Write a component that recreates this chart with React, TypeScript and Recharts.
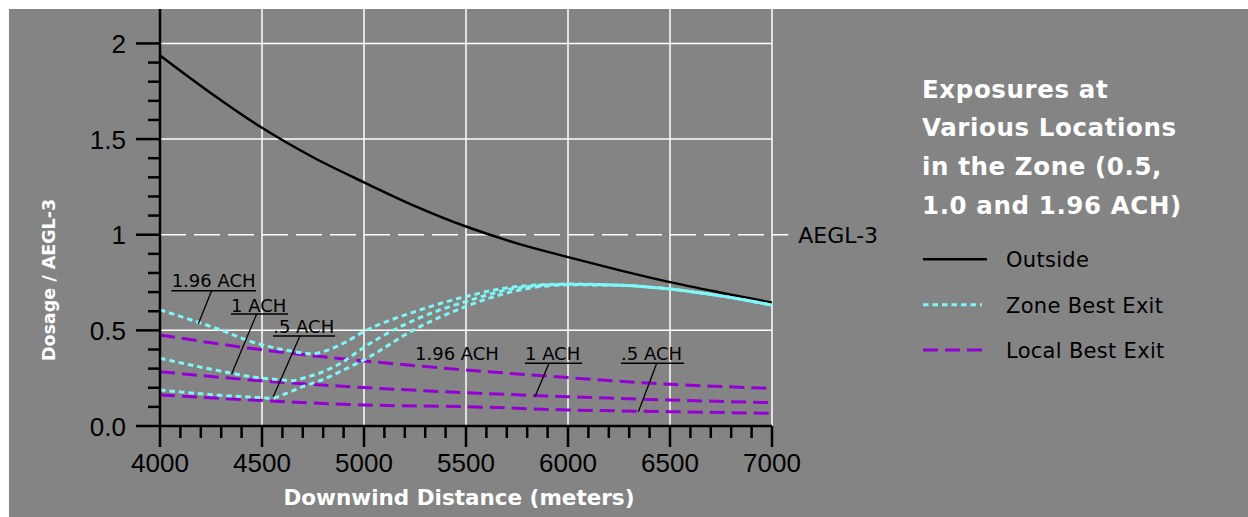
import React from 'react';
import {
  LineChart,
  Line,
  XAxis,
  YAxis,
  CartesianGrid,
  ReferenceLine,
  ReferenceDot,
  Legend,
} from 'recharts';

/* ------------------------------------------------------------------ */
/*  Data (distance in m, dosage / AEGL-3)           */
/* ------------------------------------------------------------------ */
const OUTSIDE = [
  { d: 4000, v: 1.937 }, { d: 4250, v: 1.74 }, { d: 4500, v: 1.559 },
  { d: 4750, v: 1.405 }, { d: 5000, v: 1.274 }, { d: 5250, v: 1.15 },
  { d: 5500, v: 1.043 }, { d: 5750, v: 0.955 }, { d: 6000, v: 0.883 },
  { d: 6250, v: 0.815 }, { d: 6500, v: 0.752 }, { d: 6750, v: 0.697 },
  { d: 7000, v: 0.645 },
];

const ZONE_196 = [
  { d: 4000, v: 0.607 }, { d: 4250, v: 0.52 }, { d: 4500, v: 0.424 },
  { d: 4600, v: 0.4 }, { d: 4700, v: 0.382 }, { d: 4750, v: 0.377 },
  { d: 4800, v: 0.389 }, { d: 4900, v: 0.433 }, { d: 5000, v: 0.494 },
  { d: 5250, v: 0.598 }, { d: 5500, v: 0.677 }, { d: 5750, v: 0.729 },
  { d: 6000, v: 0.742 }, { d: 6250, v: 0.736 }, { d: 6500, v: 0.716 },
  { d: 6750, v: 0.68 }, { d: 7000, v: 0.632 },
];

const ZONE_1 = [
  { d: 4000, v: 0.354 }, { d: 4250, v: 0.297 }, { d: 4500, v: 0.25 },
  { d: 4600, v: 0.241 }, { d: 4650, v: 0.237 }, { d: 4700, v: 0.25 },
  { d: 4800, v: 0.284 }, { d: 4900, v: 0.337 }, { d: 5000, v: 0.412 },
  { d: 5250, v: 0.555 }, { d: 5500, v: 0.651 }, { d: 5750, v: 0.721 },
  { d: 6000, v: 0.74 }, { d: 6250, v: 0.736 }, { d: 6500, v: 0.716 },
  { d: 6750, v: 0.68 }, { d: 7000, v: 0.632 },
];

const ZONE_05 = [
  { d: 4000, v: 0.188 }, { d: 4250, v: 0.164 }, { d: 4500, v: 0.148 },
  { d: 4550, v: 0.145 }, { d: 4600, v: 0.162 }, { d: 4700, v: 0.206 },
  { d: 4800, v: 0.244 }, { d: 4900, v: 0.293 }, { d: 5000, v: 0.346 },
  { d: 5250, v: 0.506 }, { d: 5500, v: 0.625 }, { d: 5750, v: 0.708 },
  { d: 6000, v: 0.738 }, { d: 6250, v: 0.736 }, { d: 6500, v: 0.716 },
  { d: 6750, v: 0.68 }, { d: 7000, v: 0.632 },
];

const LOCAL_196 = [
  { d: 4000, v: 0.476 }, { d: 4500, v: 0.398 }, { d: 5000, v: 0.34 },
  { d: 5500, v: 0.293 }, { d: 6000, v: 0.253 }, { d: 6500, v: 0.218 },
  { d: 7000, v: 0.197 },
];

const LOCAL_1 = [
  { d: 4000, v: 0.284 }, { d: 4500, v: 0.236 }, { d: 5000, v: 0.201 },
  { d: 5500, v: 0.174 }, { d: 6000, v: 0.153 }, { d: 6500, v: 0.136 },
  { d: 7000, v: 0.122 },
];

const LOCAL_05 = [
  { d: 4000, v: 0.162 }, { d: 4500, v: 0.133 }, { d: 5000, v: 0.11 },
  { d: 5500, v: 0.101 }, { d: 6000, v: 0.084 }, { d: 6500, v: 0.075 },
  { d: 7000, v: 0.066 },
];

/* ticks + labels */
const X_TICKS = [
  4000, 4100, 4200, 4300, 4400, 4500, 4600, 4700, 4800, 4900,
  5000, 5100, 5200, 5300, 5400, 5500, 5600, 5700, 5800, 5900,
  6000, 6100, 6200, 6300, 6400, 6500, 6600, 6700, 6800, 6900, 7000,
];
const Y_TICKS = [
  0, 0.1, 0.2, 0.3, 0.4, 0.5, 0.6, 0.7, 0.8, 0.9,
  1, 1.1, 1.2, 1.3, 1.4, 1.5, 1.6, 1.7, 1.8, 1.9, 2,
];
const Y_LABELS: Record<string, string> = { '0': '0.0', '0.5': '0.5', '1': '1', '1.5': '1.5', '2': '2' };
const GRID_X = [4500, 5000, 5500, 6000, 6500, 7000];
const GRID_Y = [0.5, 1.5, 2];
const AEGL = 1;

const LEGEND_TITLE = ['Exposures at', 'Various Locations', 'in the Zone (0.5,', '1.0 and 1.96 ACH)'];
const LEGEND_ORDER = ['Outside', 'Zone Best Exit', 'Local Best Exit'];

/* in-plot callouts: text start / baseline, underline, leader line */
const NOTES = [
  { text: '1.96 ACH', x: 4057, y: 0.729, u: [4055, 4471, 0.707], l: [4253, 0.707, 4188, 0.534] },
  { text: '1 ACH', x: 4348, y: 0.598, u: [4348, 4627, 0.586], l: [4474, 0.586, 4351, 0.272] },
  { text: '.5 ACH', x: 4555, y: 0.485, u: [4554, 4858, 0.471], l: [4686, 0.471, 4555, 0.153] },
  { text: '1.96 ACH', x: 5250, y: 0.346, u: null, l: null },
  { text: '1 ACH', x: 5789, y: 0.346, u: [5789, 6069, 0.328], l: [5907, 0.328, 5838, 0.153] },
  { text: '.5 ACH', x: 6260, y: 0.346, u: [6260, 6569, 0.328], l: [6435, 0.328, 6345, 0.075] },
];

/* ------------------------------------------------------------------ */
/*  Styles                                                            */
/* ------------------------------------------------------------------ */
const FONT = '"DejaVu Sans", Verdana, sans-serif';
const TICK_FONT = '"Liberation Sans", Arial, sans-serif';
const BG = '#848484';

const STYLES: Record<string, { stroke: string; width: number; dash?: string; len: number }> = {
  Outside: { stroke: '#000000', width: 2.5, len: 64 },
  'Zone Best Exit': { stroke: '#7ff7f7', width: 3, dash: '5.5 4', len: 59 },
  'Local Best Exit': { stroke: '#9400d3', width: 3, dash: '15 7', len: 59 },
};

const SERIES = [
  { id: 'out', name: 'Outside', data: OUTSIDE },
  { id: 'l196', name: 'Local Best Exit', data: LOCAL_196 },
  { id: 'l1', name: 'Local Best Exit', data: LOCAL_1 },
  { id: 'l05', name: 'Local Best Exit', data: LOCAL_05 },
  { id: 'z196', name: 'Zone Best Exit', data: ZONE_196 },
  { id: 'z1', name: 'Zone Best Exit', data: ZONE_1 },
  { id: 'z05', name: 'Zone Best Exit', data: ZONE_05 },
];

/* ------------------------------------------------------------------ */
/*  Axis ticks (long major / short minor)                             */
/* ------------------------------------------------------------------ */
const XTick = ({ x, y, payload }: any) => {
  const major = payload.value % 500 === 0;
  return (
    <g>
      <line x1={x} x2={x} y1={y} y2={y + (major ? 21 : 12)} stroke="#000" strokeWidth={2.5} />
      {major && (
        <text x={x} y={y + 46} textAnchor="middle" fontSize={26} fontFamily={TICK_FONT} fill="#000">
          {payload.value}
        </text>
      )}
    </g>
  );
};

const YTick = ({ x, y, payload }: any) => {
  const label = Y_LABELS[String(payload.value)];
  return (
    <g>
      <line x1={x - (label ? 24 : 12)} x2={x} y1={y} y2={y} stroke="#000" strokeWidth={2.5} />
      {label && (
        <text x={x - 34} y={y + 9.5} textAnchor="end" fontSize={26} fontFamily={TICK_FONT} fill="#000">
          {label}
        </text>
      )}
    </g>
  );
};

const YTitle = ({ viewBox }: any) => {
  const cx = viewBox.x + 46;
  const cy = viewBox.y + 271;
  return (
    <text x={cx} y={cy} transform={`rotate(-90 ${cx} ${cy})`} textAnchor="middle"
      fontSize={17.5} fontWeight="bold" fontFamily={FONT} fill="#fff">
      Dosage / AEGL-3
    </text>
  );
};

const XTitle = ({ viewBox }: any) => (
  <text x={viewBox.x + viewBox.width / 2 - 7} y={viewBox.y + 79} textAnchor="middle"
    fontSize={21.5} fontWeight="bold" fontFamily={FONT} fill="#fff">
    Downwind Distance (meters)
  </text>
);

/* ------------------------------------------------------------------ */
/*  Legend block on the right                                         */
/* ------------------------------------------------------------------ */
const renderLegend = (props: any) => {
  const seen = new Set<string>();
  const items = (props.payload || [])
    .filter((e: any) => {
      if (seen.has(e.value)) return false;
      seen.add(e.value);
      return true;
    })
    .sort((a: any, b: any) => LEGEND_ORDER.indexOf(a.value) - LEGEND_ORDER.indexOf(b.value));

  return (
    <svg width={330} height={310} style={{ display: 'block', overflow: 'visible' }}>
      {LEGEND_TITLE.map((t, i) => (
        <text key={t} x={9} y={28.5 + i * 38.9} fill="#fff" fontWeight="bold"
          fontSize={24.5} letterSpacing={0.6} fontFamily={FONT}>
          {t}
        </text>
      ))}
      {items.map((e: any, i: number) => {
        const s = STYLES[e.value];
        const cy = 190.3 + i * 45.4;
        return (
          <g key={e.value}>
            <line x1={10} x2={10 + s.len} y1={cy} y2={cy} stroke={s.stroke}
              strokeWidth={s.width} strokeDasharray={s.dash} />
            <text x={93} y={cy + 8} fontSize={21} letterSpacing={0.3} fontFamily={FONT} fill="#000">
              {e.value}
            </text>
          </g>
        );
      })}
    </svg>
  );
};

/* ------------------------------------------------------------------ */
/*  Component                                                         */
/* ------------------------------------------------------------------ */
export default function App() {
  return (
    <div style={{ position: 'absolute', left: 9, top: 9, width: 1239, height: 508, background: BG }}>
      <LineChart width={1239} height={508} margin={{ top: 0, right: 476, bottom: 0, left: 0 }}>
        <CartesianGrid
          stroke="#ffffff"
          strokeWidth={1.5}
          horizontalValues={GRID_Y}
          verticalValues={GRID_X}
        />
        <XAxis
          type="number"
          dataKey="d"
          domain={[4000, 7000]}
          ticks={X_TICKS}
          interval={0}
          tickSize={0}
          tickMargin={0}
          tick={<XTick />}
          height={91}
          axisLine={{ stroke: '#000', strokeWidth: 2.5 }}
          label={XTitle}
        />
        <YAxis
          type="number"
          dataKey="v"
          domain={[0, 2.18]}
          ticks={Y_TICKS}
          interval={0}
          tickSize={0}
          tickMargin={0}
          tick={<YTick />}
          width={151}
          axisLine={{ stroke: '#000', strokeWidth: 2.5 }}
          label={YTitle}
        />

        <ReferenceLine
          segment={[{ x: 4000, y: AEGL }, { x: 7080, y: AEGL }]}
          ifOverflow="visible"
          stroke="#ffffff"
          strokeWidth={1.5}
          strokeDasharray="26 8"
          label={{ value: 'AEGL-3', position: 'right', offset: 10, fill: '#000', fontSize: 22, fontFamily: FONT }}
        />

        {SERIES.map((s, i) => {
          const st = STYLES[s.name];
          return (
            <Line
              key={s.id}
              data={s.data}
              dataKey="v"
              name={s.name}
              type="monotone"
              stroke={st.stroke}
              strokeWidth={st.width}
              strokeDasharray={st.dash}
              dot={false}
              activeDot={false}
              legendType={i === 0 || i === 1 || i === 4 ? 'line' : 'none'}
              isAnimationActive={false}
            />
          );
        })}

        {/* callout underlines + leader lines */}
        {NOTES.map((n, i) =>
          n.u ? (
            <ReferenceLine key={`u${i}`} segment={[{ x: n.u[0], y: n.u[2] }, { x: n.u[1], y: n.u[2] }]}
              stroke="#000" strokeWidth={1.5} />
          ) : null
        )}
        {NOTES.map((n, i) =>
          n.l ? (
            <ReferenceLine key={`l${i}`} segment={[{ x: n.l[0], y: n.l[1] }, { x: n.l[2], y: n.l[3] }]}
              stroke="#000" strokeWidth={1.3} />
          ) : null
        )}
        {NOTES.map((n, i) => (
          <ReferenceDot
            key={`t${i}`}
            x={n.x}
            y={n.y}
            r={0}
            fill="none"
            stroke="none"
            label={(p: any) => (
              <text x={p.viewBox.x} y={p.viewBox.y} fontSize={18} fontFamily={FONT} fill="#000">
                {n.text}
              </text>
            )}
          />
        ))}

        <Legend
          layout="vertical"
          align="center"
          verticalAlign="middle"
          content={renderLegend}
          wrapperStyle={{ left: 904, top: 60, width: 330, height: 310 }}
        />
      </LineChart>
    </div>
  );
}
